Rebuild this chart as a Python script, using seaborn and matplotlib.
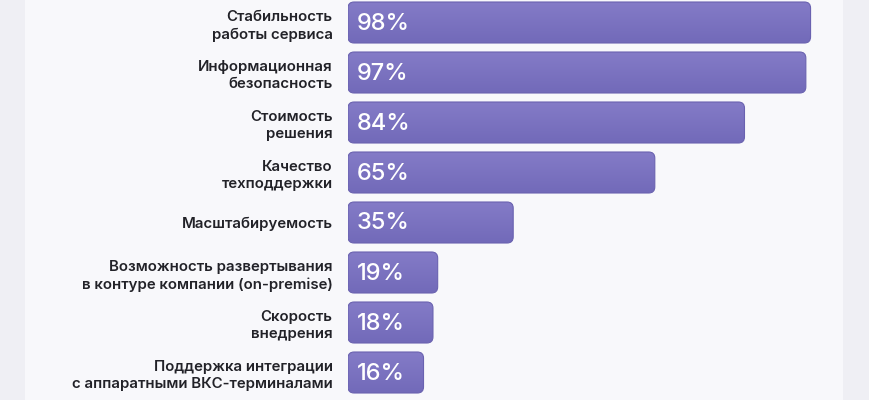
import numpy as np
import pandas as pd
import matplotlib.pyplot as plt
import seaborn as sns
from matplotlib.patches import FancyBboxPatch, Rectangle
from matplotlib.colors import LinearSegmentedColormap

# данные
criteria = [
    "Стабильность\nработы сервиса",
    "Информационная\nбезопасность",
    "Стоимость\nрешения",
    "Качество\nтехподдержки",
    "Масштабируемость",
    "Возможность развертывания\nв контуре компании (on-premise)",
    "Скорость\nвнедрения",
    "Поддержка интеграции\nс аппаратными ВКС-терминалами",
]
shares = [98, 97, 84, 65, 35, 19, 18, 16]

df = pd.DataFrame({"criterion": criteria, "share": shares})

sns.set_style("white")
plt.rcParams['font.family'] = ['Inter', 'DejaVu Sans']

fig = plt.figure(figsize=(8.7, 4), dpi=100, facecolor="#efeff4")
# светлая подложка (под осями)
fig.patches.append(Rectangle((25 / 870, 0), (843 - 25) / 870, 1, transform=fig.transFigure,
                             facecolor="#f8f8fb", edgecolor="none", zorder=-1))

ax = fig.add_axes([348 / 870, 0, (820 - 348) / 870, 1])
ax.set_facecolor("none")

sns.barplot(data=df, x="share", y="criterion", orient="h", width=0.82,
            color="#7d74c0", ax=ax)

# скругленные бары с градиентом
grad = LinearSegmentedColormap.from_list("g", ["#847bc7", "#726ab9"])
aspect = (1 / 50) / (1 / 4.72)
bars = list(ax.patches)
for i, p in enumerate(bars):
    x, y, w, h = p.get_x(), p.get_y(), p.get_width(), p.get_height()
    p.remove()
    box = FancyBboxPatch((x, y), w, h, boxstyle="round,pad=0,rounding_size=1.3",
                         mutation_aspect=aspect, facecolor="none",
                         edgecolor="#6a62b0", linewidth=0.8, zorder=3)
    ax.add_patch(box)
    img = ax.imshow(np.linspace(0, 1, 64).reshape(-1, 1), cmap=grad, aspect="auto",
                    extent=(x, x + w, y + h, y), zorder=2)
    img.set_clip_path(box)
    ax.text(x + 1.9, y + h / 2 + 0.02, f"{shares[i]}%", color="white",
            fontsize=17, fontweight="medium", va="center", ha="left", zorder=4)

ax.set_xlim(0, 100)
ax.set_ylim(7.55, -0.45)

ax.set_xlabel("")
ax.set_ylabel("")
ax.set_xticks([])
ax.tick_params(axis="y", length=0, pad=11, labelsize=10.8, labelcolor="#222228")
for lab in ax.get_yticklabels():
    lab.set_fontweight("semibold")
    lab.set_linespacing(1.3)
sns.despine(ax=ax, left=True, bottom=True)

fig.savefig("out.png", dpi=100, facecolor=fig.get_facecolor())
